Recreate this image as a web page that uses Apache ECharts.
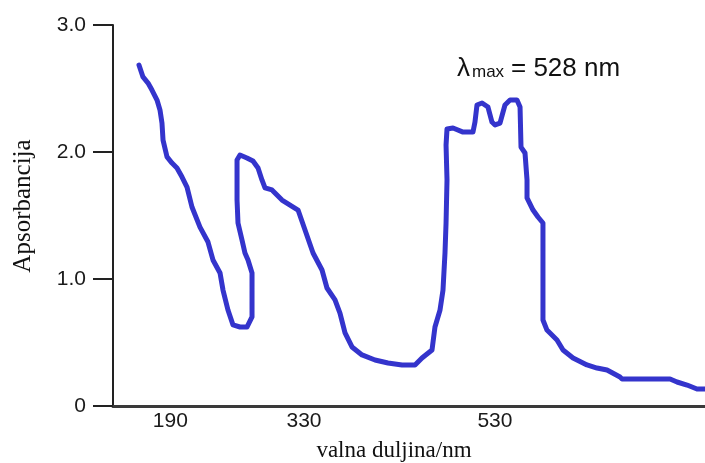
<!DOCTYPE html>
<html>
<head>
<meta charset="utf-8">
<script src="https://cdn.jsdelivr.net/npm/echarts@6/dist/echarts.min.js"></script>
<style>
html,body{margin:0;padding:0;background:#fff;}
#chart{width:705px;height:463px;}
</style>
</head>
<body>
<div id="chart"></div>
<script>
// Wavelength (nm) of each traced point, in drawing order (the trace doubles back)
var wavelengthNm = [
  157.2,161.4,166.7,170.8,176.1,179.2,181.3,182.4,186.6,191.8,
  197.0,202.3,207.5,212.7,221.1,229.5,234.7,242.1,245.2,250.4,
  255.7,263.0,270.3,275.6,275.6,271.4,268.2,265.1,260.9,259.9,
  259.9,263.0,270.3,276.6,281.9,286.0,289.2,296.5,307.0,323.8,
  331.1,339.5,348.9,354.1,362.5,367.7,373.0,380.3,390.8,404.4,
  418.0,432.7,446.3,453.6,464.1,467.2,472.5,475.6,477.7,478.8,
  479.8,478.8,479.8,486.1,496.6,507.0,509.1,511.2,516.5,522.7,
  526.9,530.1,535.3,540.5,545.8,553.1,556.3,557.3,561.5,563.6,
  563.6,569.9,575.1,580.3,580.3,584.5,595.0,601.3,611.8,626.4,
  636.9,647.4,661.0,663.1,713.4,720.7,731.2,741.6,750.0
];
// Absorbance of each traced point
var absorbance = [
  2.685,2.591,2.543,2.488,2.409,2.331,2.228,2.094,1.961,1.913,
  1.874,1.803,1.724,1.567,1.409,1.291,1.150,1.047,0.913,0.756,
  0.638,0.622,0.622,0.701,1.047,1.150,1.205,1.307,1.441,1.622,
  1.937,1.976,1.953,1.929,1.874,1.780,1.717,1.701,1.622,1.543,
  1.386,1.205,1.071,0.929,0.835,0.732,0.575,0.465,0.402,0.362,
  0.339,0.323,0.323,0.378,0.441,0.622,0.756,0.913,1.205,1.441,
  1.780,2.055,2.181,2.189,2.157,2.157,2.236,2.370,2.386,2.354,
  2.236,2.213,2.228,2.370,2.409,2.409,2.354,2.039,1.992,1.780,
  1.638,1.543,1.488,1.441,0.677,0.598,0.520,0.441,0.378,0.323,
  0.299,0.283,0.228,0.213,0.213,0.189,0.165,0.134,0.134
];
var xTickValues = [190, 330, 530];
var xTickLabels = ['190', '330', '530'];
var yTickValues = [0, 1, 2, 3];
var yTickLabels = ['0', '1.0', '2.0', '3.0'];
var xTitle = 'valna duljina/nm';
var yTitle = 'Apsorbancija';
var annotLambda = 'λ';
var annotSub = 'max';
var annotRest = '= 528 nm';

var seriesData = wavelengthNm.map(function (w, i) { return [w, absorbance[i]]; });

var chart = echarts.init(document.getElementById('chart'), null, {renderer: 'canvas'});
chart.setOption({
  animation: false,
  backgroundColor: '#ffffff',
  grid: {left: 113, right: 0, top: 25, bottom: 57, containLabel: false},
  xAxis: {
    type: 'value', min: 130, max: 750,
    axisLine: {show: true, onZero: false, lineStyle: {color: '#3a3a3a', width: 3}},
    axisTick: {show: false},
    splitLine: {show: false},
    axisLabel: {
      customValues: xTickValues,
      formatter: function (v) { var i = xTickValues.indexOf(v); return i >= 0 ? xTickLabels[i] : ''; },
      margin: 5, fontSize: 21, fontFamily: 'Liberation Sans, Arial, sans-serif', color: '#1a1a1a'
    }
  },
  yAxis: {
    type: 'value', min: 0, max: 3, interval: 1,
    axisLine: {show: true, lineStyle: {color: '#222', width: 2}},
    axisTick: {show: true, inside: false, length: 20, lineStyle: {color: '#222', width: 2}},
    splitLine: {show: false},
    axisLabel: {
      formatter: function (v) { var i = yTickValues.indexOf(v); return i >= 0 ? yTickLabels[i] : ''; },
      margin: 27, fontSize: 21, fontFamily: 'Liberation Sans, Arial, sans-serif', color: '#1a1a1a'
    }
  },
  series: [{
    type: 'line',
    data: seriesData,
    showSymbol: false,
    smooth: false,
    clip: false,
    lineStyle: {color: '#3434cc', width: 5, cap: 'round', join: 'round'}
  }],
  graphic: [
    {type: 'text', x: 23, y: 206, rotation: Math.PI / 2,
     style: {text: yTitle, font: '25px "Liberation Serif", "Times New Roman", serif', fill: '#111', align: 'center', verticalAlign: 'middle'}},
    {type: 'text', x: 394, y: 451,
     style: {text: xTitle, font: '23px "Liberation Serif", "Times New Roman", serif', fill: '#111', align: 'center', verticalAlign: 'middle'}},
    {type: 'text', x: 457, y: 69,
     style: {text: annotLambda, font: '26px "Liberation Sans", Arial, sans-serif', fill: '#111', align: 'left', verticalAlign: 'middle'}},
    {type: 'text', x: 472, y: 72,
     style: {text: annotSub, font: '17px "Liberation Sans", Arial, sans-serif', fill: '#111', align: 'left', verticalAlign: 'middle'}},
    {type: 'text', x: 511, y: 69,
     style: {text: annotRest, font: '26px "Liberation Sans", Arial, sans-serif', fill: '#111', align: 'left', verticalAlign: 'middle'}}
  ]
});
</script>
</body>
</html>
